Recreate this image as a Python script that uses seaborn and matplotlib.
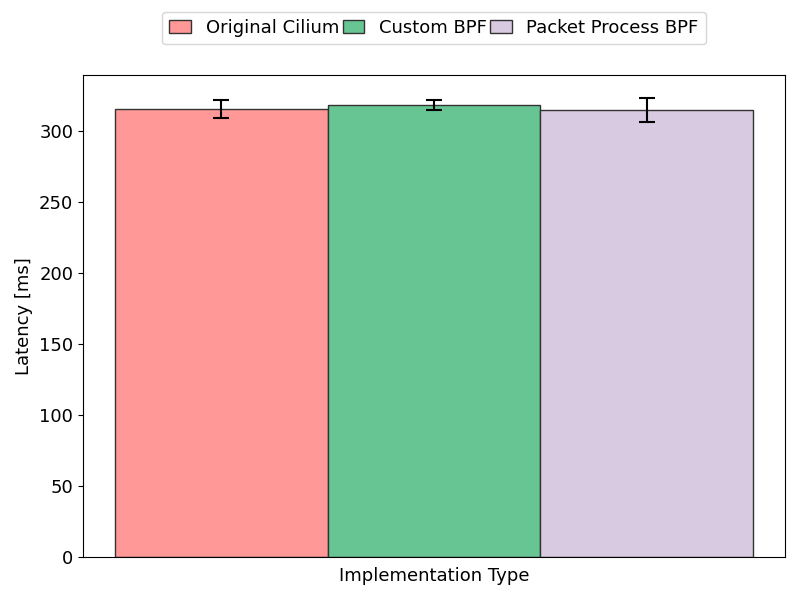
import pandas as pd
import matplotlib.pyplot as plt
import seaborn as sns

# Số liệu
implementations = ["Original Cilium", "Custom BPF", "Packet Process BPF"]
latency_mean = [315.4, 318.3, 314.6]
latency_err = [6.4, 3.6, 8.5]
bar_colors = ["#FF9896", "#66C592", "#D7CAE1"]

df = pd.DataFrame({
    "group": ["all"] * len(implementations),
    "impl": implementations,
    "latency": latency_mean,
})

fig, ax = plt.subplots(figsize=(8, 6), dpi=100)
sns.barplot(data=df, x="group", y="latency", hue="impl", hue_order=implementations,
            palette=bar_colors, width=0.9, gap=0, errorbar=None,
            edgecolor="#333333", linewidth=1, saturation=1, ax=ax)

# Thanh sai số tại tâm của từng cột
for patch, err in zip(ax.patches[:len(implementations)], latency_err):
    cx = patch.get_x() + patch.get_width() / 2
    ax.errorbar(cx, patch.get_height(), yerr=err, color="black", capsize=6,
                elinewidth=1.5, capthick=1.5)

ax.set_xlim(-0.495, 0.495)
ax.set_xticks([])
ax.set_xlabel("Implementation Type", fontsize=13, labelpad=7)
ax.set_ylabel("Latency [ms]", fontsize=13)
ax.tick_params(axis="y", labelsize=13)
ax.legend(loc="upper center", bbox_to_anchor=(0.5, 1.15), ncol=3, fontsize=13,
          columnspacing=0.2, handlelength=1.2, handletextpad=0.8, title=None)

plt.subplots_adjust(left=0.10375, right=0.98125, top=0.875, bottom=0.0717)
plt.savefig("out.png", dpi=100)
